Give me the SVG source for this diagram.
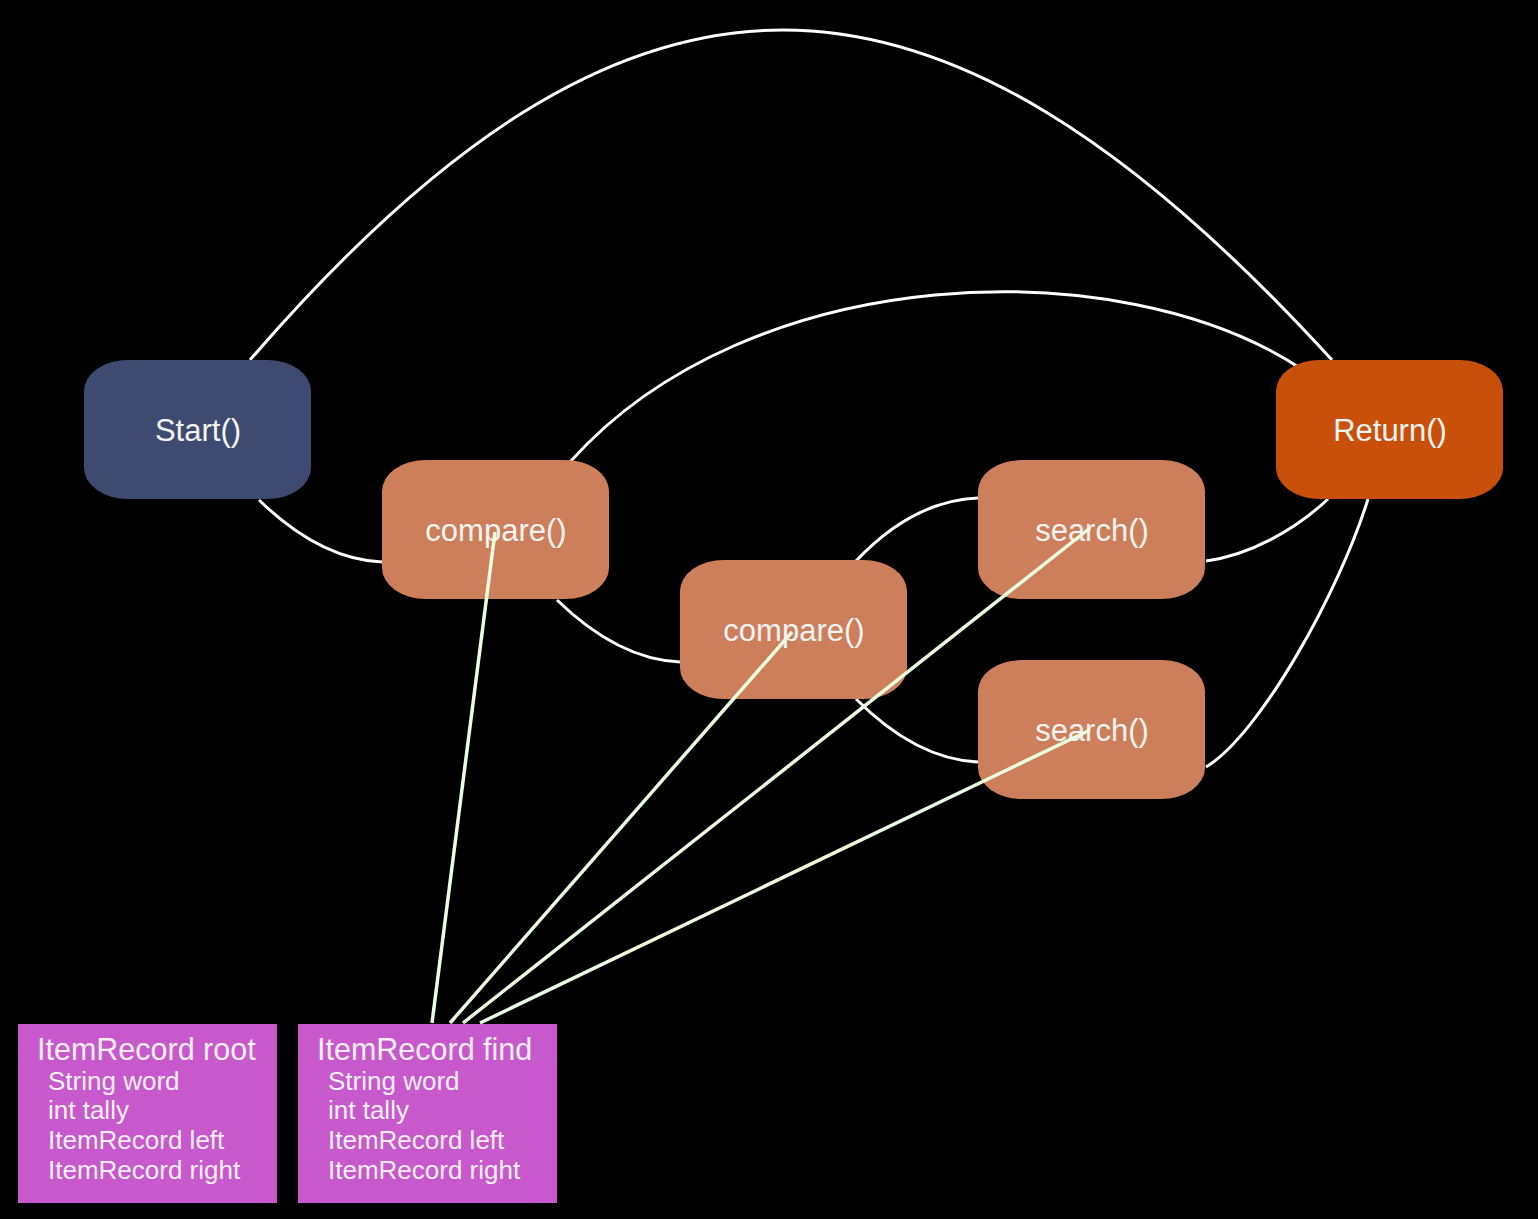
<svg xmlns="http://www.w3.org/2000/svg" width="1538" height="1219" viewBox="0 0 1538 1219">
  <style>
    .node rect { stroke: none; }
    .label { font-family: "Liberation Sans", Arial, sans-serif; font-size: 31px; fill: #f4f4f4; text-anchor: middle; }
    .edge { fill: none; stroke: #ffffff; stroke-width: 3; }
    .link { fill: none; stroke: #eafde0; stroke-width: 3.5; }
    .title { font-family: "Liberation Sans", Arial, sans-serif; font-size: 30.5px; fill: #f6f0f6; }
    .field { font-family: "Liberation Sans", Arial, sans-serif; font-size: 26px; fill: #f6f0f6; }
    .start { fill: #3f4a70; }
    .call { fill: #cd7f5b; }
    .ret { fill: #c8500a; }
    .rec { fill: #c759cc; }
  </style>
  <rect x="0" y="0" width="1538" height="1219" fill="#000000"/>

  <g id="connectors">
    <path class="edge" d="M250,360 C630,-80 930,-80 1332,360"/>
    <path class="edge" d="M570,462 C750,260 1120,250 1300,368"/>
    <path class="edge" d="M259,500 C295,535 335,560 382,562"/>
    <path class="edge" d="M557,600 C593,635 633,660 680,662"/>
    <path class="edge" d="M856,561 C890,525 930,500 978,498"/>
    <path class="edge" d="M856,699 C892,735 932,760 978,762"/>
    <path class="edge" d="M1206,561 C1250,555 1295,530 1328,499"/>
    <path class="edge" d="M1206,767 C1260,735 1340,590 1368,499"/>
  </g>

  <g id="node-start" class="node">
    <rect class="start" x="84" y="360" width="227" height="139" rx="44" ry="31"/>
    <text class="label" x="198" y="441">Start()</text>
  </g>
  <g id="node-compare1" class="node">
    <rect class="call" x="382" y="460" width="227" height="139" rx="44" ry="31"/>
    <text class="label" x="496" y="541">compare()</text>
  </g>
  <g id="node-compare2" class="node">
    <rect class="call" x="680" y="560" width="227" height="139" rx="44" ry="31"/>
    <text class="label" x="794" y="641">compare()</text>
  </g>
  <g id="node-search1" class="node">
    <rect class="call" x="978" y="460" width="227" height="139" rx="44" ry="31"/>
    <text class="label" x="1092" y="541">search()</text>
  </g>
  <g id="node-search2" class="node">
    <rect class="call" x="978" y="660" width="227" height="139" rx="44" ry="31"/>
    <text class="label" x="1092" y="741">search()</text>
  </g>
  <g id="node-return" class="node">
    <rect class="ret" x="1276" y="360" width="227" height="139" rx="44" ry="31"/>
    <text class="label" x="1390" y="441">Return()</text>
  </g>

  <g id="record-root">
    <rect class="rec" x="18" y="1024" width="259" height="179"/>
    <text class="title" x="37" y="1060">ItemRecord root</text>
    <text class="field" x="48" y="1090">String word</text>
    <text class="field" x="48" y="1119">int tally</text>
    <text class="field" x="48" y="1149">ItemRecord left</text>
    <text class="field" x="48" y="1179">ItemRecord right</text>
  </g>
  <g id="record-find">
    <rect class="rec" x="298" y="1024" width="259" height="179"/>
    <text class="title" x="317" y="1060">ItemRecord find</text>
    <text class="field" x="328" y="1090">String word</text>
    <text class="field" x="328" y="1119">int tally</text>
    <text class="field" x="328" y="1149">ItemRecord left</text>
    <text class="field" x="328" y="1179">ItemRecord right</text>
  </g>

  <g id="links">
    <path class="link" d="M432,1023 L495,532"/>
    <path class="link" d="M450,1023 L792,632"/>
    <path class="link" d="M463,1023 L1090,528"/>
    <path class="link" d="M480,1023 L1090,730"/>
  </g>
</svg>
